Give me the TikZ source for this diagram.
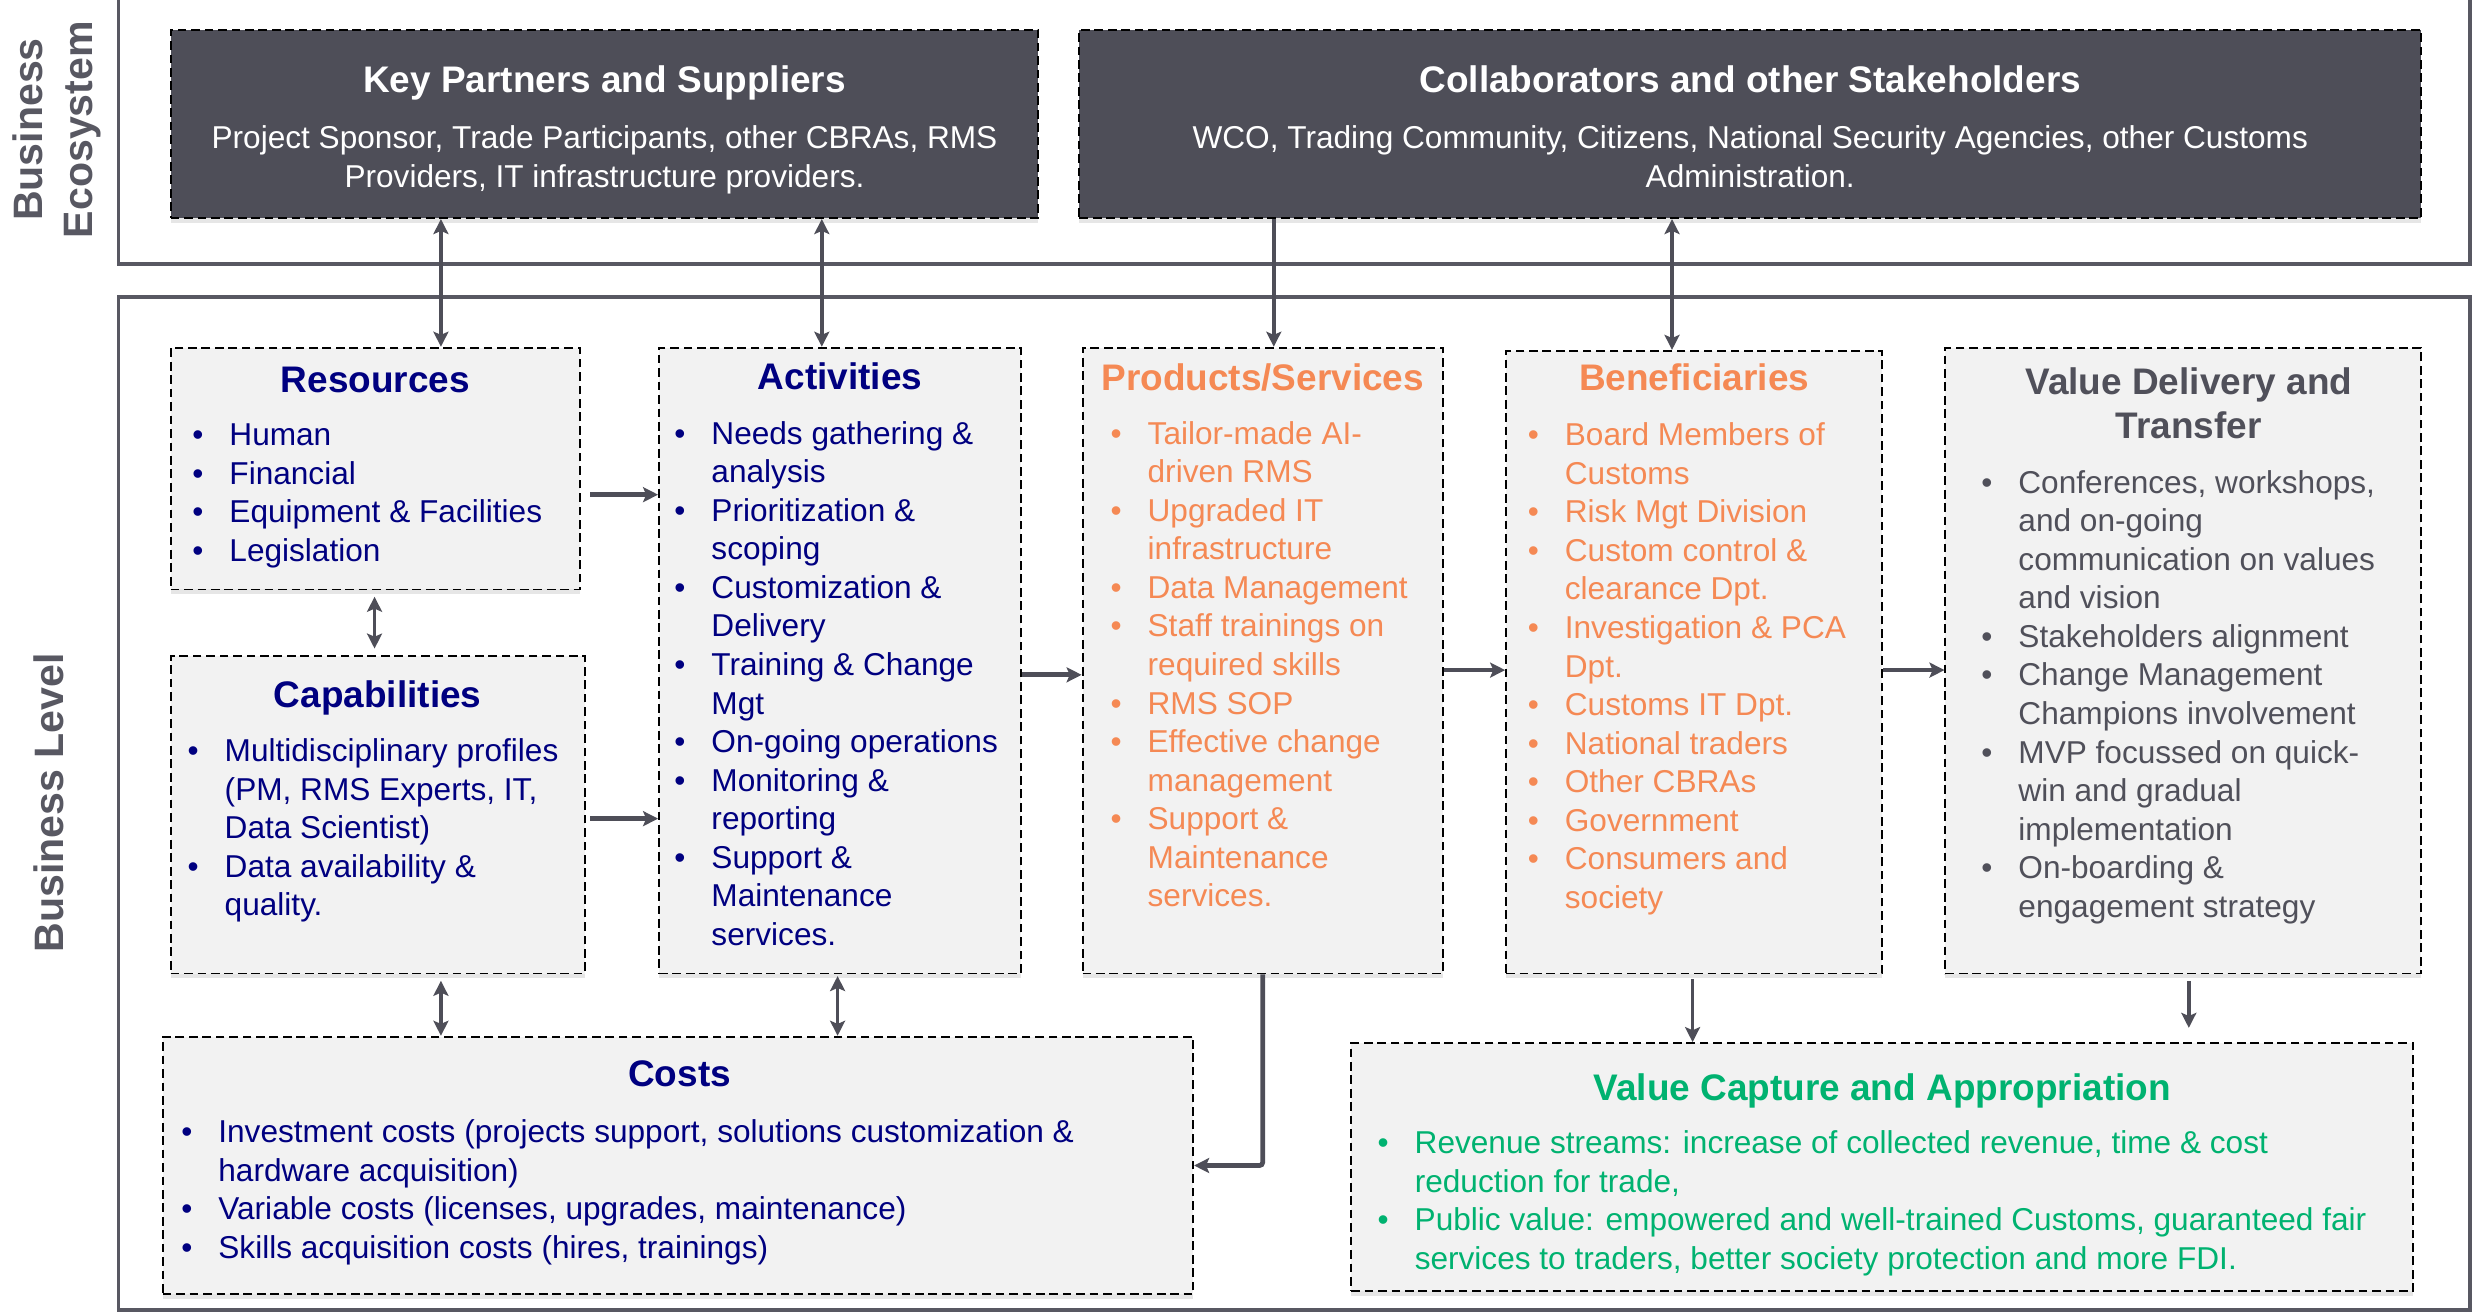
\documentclass[tikz,border=0pt]{standalone}
\usepackage{fontspec}
\setmainfont{Liberation Sans}
\usetikzlibrary{arrows.meta,shadows}
\definecolor{slate}{RGB}{78,78,88}
\definecolor{boxgray}{RGB}{242,242,242}
\definecolor{navy}{RGB}{0,0,128}
\definecolor{peach}{RGB}{245,137,84}
\definecolor{mint}{RGB}{0,178,112}
\definecolor{ink}{RGB}{80,80,90}
\definecolor{rim}{RGB}{88,88,98}
\newcommand{\itm}{\makebox[23.5pt][l]{\textbullet}}
\newcommand{\cnt}{\hspace*{23.5pt}}
\newcommand{\lstack}[1]{\parbox[t]{700pt}{\raggedright#1}}
\newcommand{\cstack}[2]{\parbox[t]{#1}{\centering#2}}
\begin{document}
\begin{tikzpicture}[x=1pt,y=-1pt,
    >={Stealth[length=9.5pt,width=9.5pt,inset=2pt]},
    lbox/.style={draw=black,line width=1.2pt,dash pattern=on 5.5pt off 3pt,fill=boxgray,
        drop shadow={opacity=.2,shadow xshift=0pt,shadow yshift=-3pt},inner sep=0pt},
    dbox/.style={lbox,fill=slate},
    head/.style={font=\fontsize{23.4}{28}\selectfont\bfseries,align=center,inner sep=0pt,anchor=base},
    txt/.style={font=\fontsize{20}{24.4}\selectfont,inner sep=0pt},
    list/.style={txt,anchor=base west},
    side/.style={font=\fontsize{26}{32}\selectfont\bfseries,text=rim,align=center,rotate=90,inner sep=0pt},
    frame/.style={draw=rim,line width=2.2pt},
    link/.style={draw=slate,line width=2.2pt},
    flow/.style={draw=slate,line width=3pt}]
\useasboundingbox (0,0) rectangle (1568,831);

% frames and side labels
\draw[frame] (75,-5) -- (75,167) -- (1563,167) -- (1563,-5);
\draw[frame] (75,188) rectangle (1563,829);
\node[side] (eco) at (36,82) {Business\\Ecosystem};
\node[side] (lvl) at (31,508) {Business Level};

% ecosystem
\node[dbox,minimum width=549,minimum height=119] (kps) at (382.5,78.5) {};
\node[head,white] (kpsT) at (382.5,58.4) {Key Partners and Suppliers};
\node[txt,white,anchor=base] (kpsB) at (382.5,94) {\cstack{540pt}{Project Sponsor, Trade Participants, other CBRAs, RMS\\Providers, IT infrastructure providers.}};

\node[dbox,minimum width=849,minimum height=119] (col) at (1107.5,78.5) {};
\node[head,white] (colT) at (1107.5,58.4) {Collaborators and other Stakeholders};
\node[txt,white,anchor=base] (colB) at (1107.5,94) {\cstack{840pt}{WCO, Trading Community, Citizens, National Security Agencies, other Customs\\Administration.}};

% business level
\node[lbox,minimum width=259,minimum height=153] (res) at (237.5,296.5) {};
\node[head,navy] (resT) at (237.5,248.4) {Resources};
\node[list,navy] (resL) at (121.5,282) {\lstack{\itm Human\\\itm Financial\\\itm Equipment \& Facilities\\\itm Legislation}};

\node[lbox,minimum width=262,minimum height=201] (cap) at (239,515.5) {};
\node[head,navy] (capT) at (239,447.4) {Capabilities};
\node[list,navy] (capL) at (118.5,482) {\lstack{\itm Multidisciplinary profiles\\\cnt (PM, RMS Experts, IT,\\\cnt Data Scientist)\\\itm Data availability \&\\\cnt quality.}};

\node[lbox,minimum width=229,minimum height=396] (act) at (531.5,418) {};
\node[head,navy] (actT) at (531.5,246.4) {Activities};
\node[list,navy] (actL) at (426.5,281) {\lstack{\itm Needs gathering \&\\\cnt analysis\\\itm Prioritization \&\\\cnt scoping\\\itm Customization \&\\\cnt Delivery\\\itm Training \& Change\\\cnt Mgt\\\itm On-going operations\\\itm Monitoring \&\\\cnt reporting\\\itm Support \&\\\cnt Maintenance\\\cnt services.}};

\node[lbox,minimum width=228,minimum height=396] (prod) at (799,418) {};
\node[head,peach] (prodT) at (799,247.4) {Products/Services};
\node[list,peach] (prodL) at (702.5,281) {\lstack{\itm Tailor-made AI-\\\cnt driven RMS\\\itm Upgraded IT\\\cnt infrastructure\\\itm Data Management\\\itm Staff trainings on\\\cnt required skills\\\itm RMS SOP\\\itm Effective change\\\cnt management\\\itm Support \&\\\cnt Maintenance\\\cnt services.}};

\node[lbox,minimum width=238,minimum height=394] (ben) at (1072,419) {};
\node[head,peach] (benT) at (1072,247.4) {Beneficiaries};
\node[list,peach] (benL) at (966.5,282) {\lstack{\itm Board Members of\\\cnt Customs\\\itm Risk Mgt Division\\\itm Custom control \&\\\cnt clearance Dpt.\\\itm Investigation \& PCA\\\cnt Dpt.\\\itm Customs IT Dpt.\\\itm National traders\\\itm Other CBRAs\\\itm Government\\\itm Consumers and\\\cnt society}};

\node[lbox,minimum width=301,minimum height=396] (vdt) at (1381.5,418) {};
\node[head,ink] (vdtT) at (1385,249.4) {\cstack{300pt}{Value Delivery and\\Transfer}};
\node[list,ink] (vdtL) at (1253.5,312) {\lstack{\itm Conferences, workshops,\\\cnt and on-going\\\cnt communication on values\\\cnt and vision\\\itm Stakeholders alignment\\\itm Change Management\\\cnt Champions involvement\\\itm MVP focussed on quick-\\\cnt win and gradual\\\cnt implementation\\\itm On-boarding \&\\\cnt engagement strategy}};

\node[lbox,minimum width=652,minimum height=163] (cost) at (429,737.5) {};
\node[head,navy] (costT) at (430,687.4) {Costs};
\node[list,navy] (costL) at (114.5,723) {\lstack{\itm Investment costs (projects support, solutions customization \&\\\cnt hardware acquisition)\\\itm Variable costs (licenses, upgrades, maintenance)\\\itm Skills acquisition costs (hires, trainings)}};

\node[lbox,minimum width=672,minimum height=157] (vcap) at (1191,738.5) {};
\node[head,mint] (vcapT) at (1191,696.4) {Value Capture and Appropriation};
\node[list,mint] (vcapL) at (871.5,730) {\lstack{\itm Revenue streams: increase of collected revenue, time \& cost\\\cnt reduction for trade,\\\itm Public value: empowered and well-trained Customs, guaranteed fair\\\cnt services to traders, better society protection and more FDI.}};

% connectors
\coordinate (x1) at (279,0);
\coordinate (x2) at (520,0);
\coordinate (x3) at (806,0);
\coordinate (x4) at (1058,0);
\coordinate (x5) at (237,0);
\coordinate (x6) at (530,0);
\coordinate (x7) at (1071,0);
\coordinate (x8) at (1385,0);
\coordinate (y1) at (0,313);
\coordinate (y2) at (0,518);
\coordinate (y3) at (0,427);
\coordinate (y4) at (0,424);

\draw[link,<->] (x1 |- kps.south) -- (x1 |- res.north);
\draw[link,<->] (x2 |- kps.south) -- (x2 |- act.north);
\draw[link,->] (x3 |- col.south) -- (x3 |- prod.north);
\draw[link,<->] (x4 |- col.south) -- (x4 |- ben.north);

\draw[flow,->,shorten <=6pt] (y1 -| res.east) -- (y1 -| act.west);
\draw[flow,->,shorten <=3pt] (y2 -| cap.east) -- (y2 -| act.west);
\draw[flow,->] (y3 -| act.east) -- (y3 -| prod.west);
\draw[flow,->] (y4 -| prod.east) -- (y4 -| ben.west);
\draw[flow,->] (y4 -| ben.east) -- (y4 -| vdt.west);

\draw[link,<->,shorten <=4pt,shorten >=4pt] (x5 |- res.south) -- (x5 |- cap.north);
\draw[link,<->,shorten <=4pt] (x1 |- cap.south) -- (x1 |- cost.north);
\draw[link,<->,shorten <=1pt] (x6 |- act.south) -- (x6 |- cost.north);
\draw[flow,->,rounded corners=2pt] (prod.south) |- (cost.east);
\draw[link,->,shorten <=3pt] (x7 |- ben.south) -- (x7 |- vcap.north);
\draw[link,->,shorten <=4pt,shorten >=9pt] (x8 |- vdt.south) -- (x8 |- vcap.north);
\end{tikzpicture}
\end{document}
